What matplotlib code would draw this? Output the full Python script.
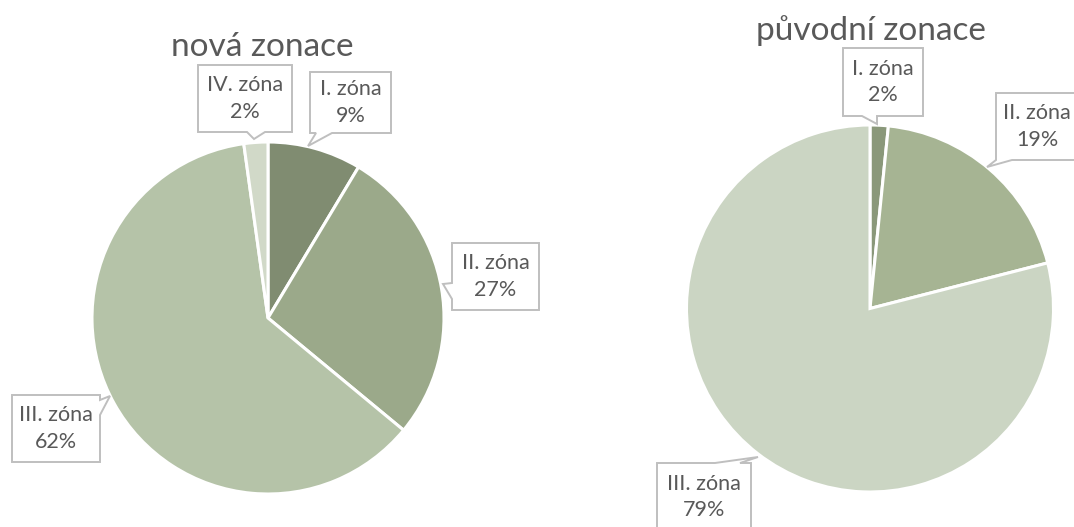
import matplotlib
matplotlib.use("Agg")
import matplotlib.pyplot as plt
from matplotlib.patches import Polygon

plt.rcParams['font.family'] = ['Lato', 'DejaVu Sans']

# ---- data ----
new_title = "nová zonace"
new_labels = ["I. zóna", "II. zóna", "III. zóna", "IV. zóna"]
new_values = [8.6, 27.4, 61.8, 2.2]
new_colors = ["#808C71", "#9BA98A", "#B5C3A8", "#D1D9C8"]

old_title = "původní zonace"
old_labels = ["I. zóna", "II. zóna", "III. zóna"]
old_values = [1.6, 19.4, 79.0]
old_colors = ["#8A987A", "#A6B493", "#CBD5C3"]

# ---- layout (pixel coords, origin top-left) ----
W, H = 1074, 527
new_center, new_radius = (268, 318), 176
old_center, old_radius = (870, 308.5), 183.5

# box (x0, y0, x1, y1), pointer edge, pointer base (b0, b1), apex
new_callouts = [
    ((310, 72, 391, 133), "bottom", (316, 332), (308, 146)),
    ((452, 243, 539, 310), "left", (283, 299), (443, 284)),
    ((12, 395, 100, 462), "right", (400, 415), (110, 396)),
    ((198, 65, 292, 132), "bottom", (247, 265), (254, 139)),
]
old_callouts = [
    ((843, 48, 923, 116), "bottom", (862, 877), (877, 124)),
    ((996, 93, 1078, 160), "bottom", (996, 1012), (987, 167)),
    ((657, 463, 751, 531), "top", (715, 740), (758, 457)),
]

TEXT = "#595959"
EDGE = "#BFBFBF"

fig = plt.figure(figsize=(W / 100, H / 100), dpi=100)
ax = fig.add_axes([0, 0, 1, 1])


def fy(py):
    return H - py


def draw_pie(values, colors, center, radius):
    ax.pie(values, colors=colors, startangle=90, counterclock=False,
           center=(center[0], fy(center[1])), radius=radius,
           wedgeprops=dict(edgecolor="white", linewidth=2.2))


def callout(box, edge, base, apex, text):
    x0, y0, x1, y1 = box
    b0, b1 = base
    if edge == "top":
        pts = [(x0, y0), (b0, y0), apex, (b1, y0), (x1, y0), (x1, y1), (x0, y1)]
    elif edge == "right":
        pts = [(x0, y0), (x1, y0), (x1, b0), apex, (x1, b1), (x1, y1), (x0, y1)]
    elif edge == "bottom":
        pts = [(x0, y0), (x1, y0), (x1, y1), (b1, y1), apex, (b0, y1), (x0, y1)]
    else:
        pts = [(x0, y0), (x1, y0), (x1, y1), (x0, y1), (x0, b1), apex, (x0, b0)]
    pts = [(px, fy(py)) for px, py in pts]
    ax.add_patch(Polygon(pts, closed=True, facecolor="white", edgecolor=EDGE,
                         linewidth=1.4, zorder=5, clip_on=False))
    ax.text((x0 + x1) / 2, fy((y0 + y1) / 2), text, ha="center", va="center",
            color=TEXT, fontsize=15.5, linespacing=1.4, zorder=6)


draw_pie(new_values, new_colors, new_center, new_radius)
draw_pie(old_values, old_colors, old_center, old_radius)

for (box, edge, base, apex), lab, v in zip(new_callouts, new_labels, new_values):
    callout(box, edge, base, apex, f"{lab}\n{round(v)}%")
for (box, edge, base, apex), lab, v in zip(old_callouts, old_labels, old_values):
    callout(box, edge, base, apex, f"{lab}\n{round(v)}%")

ax.text(262, fy(56), new_title, ha="center", va="baseline", fontsize=24, color=TEXT)
ax.text(871, fy(40), old_title, ha="center", va="baseline", fontsize=24, color=TEXT)

ax.set_xlim(0, W)
ax.set_ylim(0, H)
ax.set_aspect("auto")
ax.axis("off")

fig.savefig("out.png", dpi=100, facecolor="white")
